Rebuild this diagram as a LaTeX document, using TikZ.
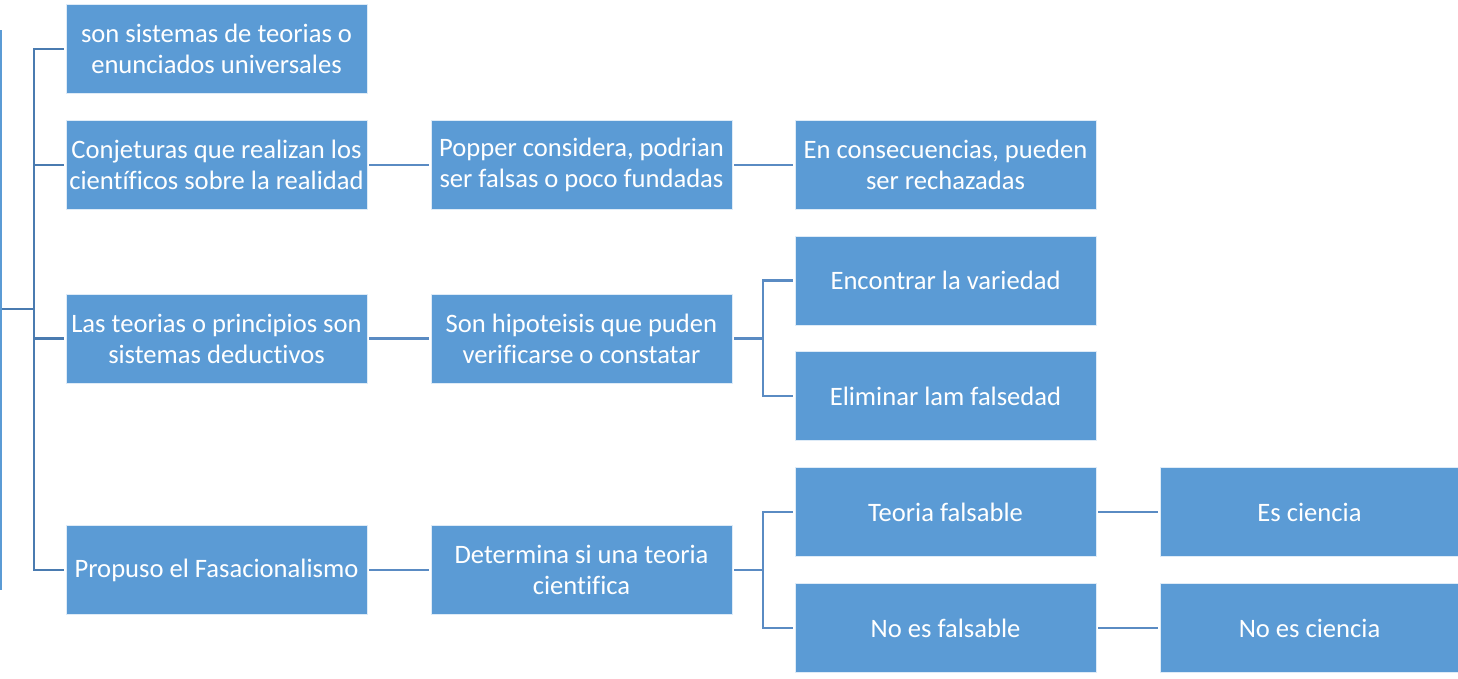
\documentclass[tikz,border=0pt]{standalone}
\usepackage{fontspec}
\setmainfont{Carlito}[Ligatures={NoCommon,NoRare,NoContextual}]
\definecolor{boxblue}{HTML}{5B9BD5}
\definecolor{lineblue}{HTML}{5A8BC3}
\definecolor{darkline}{HTML}{4A7BB0}
\begin{document}
\begin{tikzpicture}[x=1pt,y=1pt,
  box/.style={draw=white!80!boxblue,line width=0.8pt,fill=boxblue,text=white,minimum width=301pt,minimum height=89pt,inner sep=0pt,align=center,font=\fontsize{26.6}{31}\selectfont},
  conn/.style={draw=lineblue,line width=2.2pt},
  brk/.style={draw=darkline,line width=2.4pt}]
\useasboundingbox (0,0) rectangle (1458,-678);
% boxes
\node[box] (a1) at (216.5,-49) {son sistemas de teorias o\\enunciados universales};
\node[box] (a2) at (216.5,-165) {Conjeturas que realizan los\\científicos sobre la realidad};
\node[box] (a3) at (216.5,-338.5) {Las teorias o principios son\\sistemas deductivos};
\node[box] (a4) at (216.5,-570) {Propuso el Fasacionalismo};
\node[box] (b2) at (581.5,-165) {Popper considera, podrian\\ser falsas o poco fundadas};
\node[box] (b3) at (581.5,-338.5) {Son hipoteisis que puden\\verificarse o constatar};
\node[box] (b4) at (581.5,-570) {Determina si una teoria\\cientifica};
\node[box] (c2) at (945.5,-165) {En consecuencias, pueden\\ser rechazadas};
\node[box] (c3a) at (945.5,-280.5) {Encontrar la variedad};
\node[box] (c3b) at (945.5,-396) {Eliminar lam falsedad};
\node[box] (c4a) at (945.5,-512) {Teoria falsable};
\node[box] (c4b) at (945.5,-628) {No es falsable};
\node[box,minimum width=298pt] (d4a) at (1309.5,-512) {Es ciencia};
\node[box,minimum width=298pt] (d4b) at (1309.5,-628) {No es ciencia};
% left cut-off root edge
\coordinate (rtop) at (1,-30);
\coordinate (rbot) at (1,-590);
\draw[draw=boxblue,line width=2.2pt] (rtop) -- (rbot);
% left bracket
\coordinate (root) at (2,-309);
\coordinate (bx) at (34,-309);
\draw[brk] (root) -- (bx);
\draw[brk] (a1.west) ++(-2,0) -| (34,-309);
\draw[brk] (a4.west) ++(-2,0) -| (34,-309);
\draw[brk] (a2.west) ++(-2,0) -- (34,-165);
\draw[brk] (a3.west) ++(-2,0) -- (34,-338.5);
% straight connectors
\draw[conn,shorten <=2pt,shorten >=2pt] (a2) -- (b2);
\draw[conn,shorten <=2pt,shorten >=2pt] (b2) -- (c2);
\draw[conn,shorten <=2pt,shorten >=2pt] (a3) -- (b3);
\draw[conn,shorten <=2pt,shorten >=2pt] (a4) -- (b4);
\draw[conn,shorten <=2pt,shorten >=2pt] (c4a) -- (d4a);
\draw[conn,shorten <=2pt,shorten >=2pt] (c4b) -- (d4b);
% forks
\coordinate (f3) at (763,-338.5);
\draw[conn,shorten <=2pt] (b3.east) -- (f3);
\draw[conn,shorten >=2pt] (f3) |- (c3a.west);
\draw[conn,shorten >=2pt] (f3) |- (c3b.west);
\coordinate (f4) at (763,-570);
\draw[conn,shorten <=2pt] (b4.east) -- (f4);
\draw[conn,shorten >=2pt] (f4) |- (c4a.west);
\draw[conn,shorten >=2pt] (f4) |- (c4b.west);
\end{tikzpicture}
\end{document}
